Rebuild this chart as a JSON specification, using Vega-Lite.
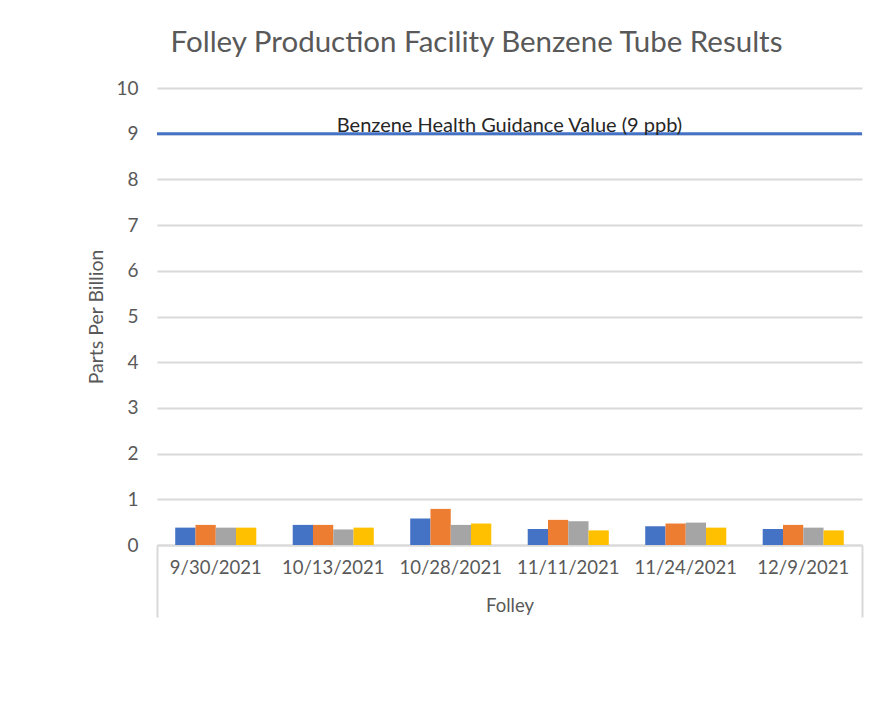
{
  "$schema": "https://vega.github.io/schema/vega-lite/v6.json",
  "width": 705,
  "height": 457,
  "autosize": "none",
  "padding": {"left": 157, "top": 88, "right": 28, "bottom": 176},
  "background": "white",
  "config": {
    "font": "Lato",
    "view": {"stroke": null},
    "axis": {"labelFont": "Lato", "titleFont": "Lato", "labelColor": "#595959", "titleColor": "#595959"}
  },
  "title": {
    "text": "Folley Production Facility Benzene Tube Results",
    "fontSize": 29.5,
    "fontWeight": "normal",
    "color": "#595959",
    "font": "Lato",
    "dx": -33,
    "offset": 21
  },
  "datasets": {
    "results": [
      {"date": "9/30/2021", "order": 1, "site": "Folley", "tube": "Tube 1", "ppb": 0.38},
      {"date": "9/30/2021", "order": 1, "site": "Folley", "tube": "Tube 2", "ppb": 0.44},
      {"date": "9/30/2021", "order": 1, "site": "Folley", "tube": "Tube 3", "ppb": 0.38},
      {"date": "9/30/2021", "order": 1, "site": "Folley", "tube": "Tube 4", "ppb": 0.38},
      {"date": "10/13/2021", "order": 2, "site": "Folley", "tube": "Tube 1", "ppb": 0.44},
      {"date": "10/13/2021", "order": 2, "site": "Folley", "tube": "Tube 2", "ppb": 0.44},
      {"date": "10/13/2021", "order": 2, "site": "Folley", "tube": "Tube 3", "ppb": 0.34},
      {"date": "10/13/2021", "order": 2, "site": "Folley", "tube": "Tube 4", "ppb": 0.38},
      {"date": "10/28/2021", "order": 3, "site": "Folley", "tube": "Tube 1", "ppb": 0.58},
      {"date": "10/28/2021", "order": 3, "site": "Folley", "tube": "Tube 2", "ppb": 0.79},
      {"date": "10/28/2021", "order": 3, "site": "Folley", "tube": "Tube 3", "ppb": 0.44},
      {"date": "10/28/2021", "order": 3, "site": "Folley", "tube": "Tube 4", "ppb": 0.47},
      {"date": "11/11/2021", "order": 4, "site": "Folley", "tube": "Tube 1", "ppb": 0.35},
      {"date": "11/11/2021", "order": 4, "site": "Folley", "tube": "Tube 2", "ppb": 0.55},
      {"date": "11/11/2021", "order": 4, "site": "Folley", "tube": "Tube 3", "ppb": 0.52},
      {"date": "11/11/2021", "order": 4, "site": "Folley", "tube": "Tube 4", "ppb": 0.32},
      {"date": "11/24/2021", "order": 5, "site": "Folley", "tube": "Tube 1", "ppb": 0.41},
      {"date": "11/24/2021", "order": 5, "site": "Folley", "tube": "Tube 2", "ppb": 0.47},
      {"date": "11/24/2021", "order": 5, "site": "Folley", "tube": "Tube 3", "ppb": 0.49},
      {"date": "11/24/2021", "order": 5, "site": "Folley", "tube": "Tube 4", "ppb": 0.38},
      {"date": "12/9/2021", "order": 6, "site": "Folley", "tube": "Tube 1", "ppb": 0.35},
      {"date": "12/9/2021", "order": 6, "site": "Folley", "tube": "Tube 2", "ppb": 0.44},
      {"date": "12/9/2021", "order": 6, "site": "Folley", "tube": "Tube 3", "ppb": 0.38},
      {"date": "12/9/2021", "order": 6, "site": "Folley", "tube": "Tube 4", "ppb": 0.32}
    ],
    "guidance": [
      {"ppb": 9, "label": "Benzene Health Guidance Value (9 ppb)"}
    ]
  },
  "layer": [
    {
      "data": {"name": "results"},
      "mark": {"type": "bar"},
      "encoding": {
        "x": {
          "field": "date",
          "type": "nominal",
          "sort": {"field": "order"},
          "scale": {"paddingInner": 0.31, "paddingOuter": 0.155},
          "axis": {
            "title": null,
            "labelAngle": 0,
            "labelFontSize": 18.5,
            "labelPadding": 13,
            "ticks": false,
            "domain": true,
            "domainColor": "#d9d9d9",
            "domainWidth": 2,
            "grid": false
          }
        },
        "xOffset": {"field": "tube", "type": "nominal", "scale": {"paddingInner": 0, "paddingOuter": 0}},
        "y": {
          "field": "ppb",
          "type": "quantitative",
          "scale": {"domain": [0, 10], "nice": false},
          "axis": {
            "title": "Parts Per Billion",
            "titleFontSize": 19.5,
            "titleFontWeight": "normal",
            "titlePadding": 9,
            "labelFontSize": 19,
            "labelPadding": 19,
            "tickCount": 10,
            "ticks": false,
            "domain": false,
            "gridColor": "#d9d9d9",
            "gridWidth": 2
          }
        },
        "color": {
          "field": "tube",
          "type": "nominal",
          "scale": {"range": ["#4472C4", "#ED7D31", "#A5A5A5", "#FFC000"]},
          "legend": null
        }
      }
    },
    {
      "data": {"name": "results"},
      "mark": {"type": "tick", "opacity": 0},
      "encoding": {
        "x": {
          "field": "site",
          "type": "nominal",
          "scale": {"paddingInner": 0, "paddingOuter": 0},
          "axis": {
            "orient": "bottom",
            "title": null,
            "labelAngle": 0,
            "labelFontSize": 18.5,
            "labelColor": "#595959",
            "labelPadding": -21,
            "tickBand": "extent",
            "tickSize": 72,
            "tickColor": "#d9d9d9",
            "tickWidth": 2,
            "domain": false,
            "grid": false
          }
        }
      }
    },
    {
      "data": {"name": "guidance"},
      "mark": {"type": "rule", "color": "#4472C4", "strokeWidth": 3},
      "encoding": {"y": {"field": "ppb", "type": "quantitative"}}
    },
    {
      "data": {"name": "guidance"},
      "mark": {"type": "text", "color": "#262626", "fontSize": 20, "font": "Lato", "baseline": "alphabetic", "dy": -2},
      "encoding": {
        "y": {"field": "ppb", "type": "quantitative"},
        "text": {"field": "label"}
      }
    }
  ],
  "resolve": {"scale": {"x": "independent", "xOffset": "independent"}}
}
